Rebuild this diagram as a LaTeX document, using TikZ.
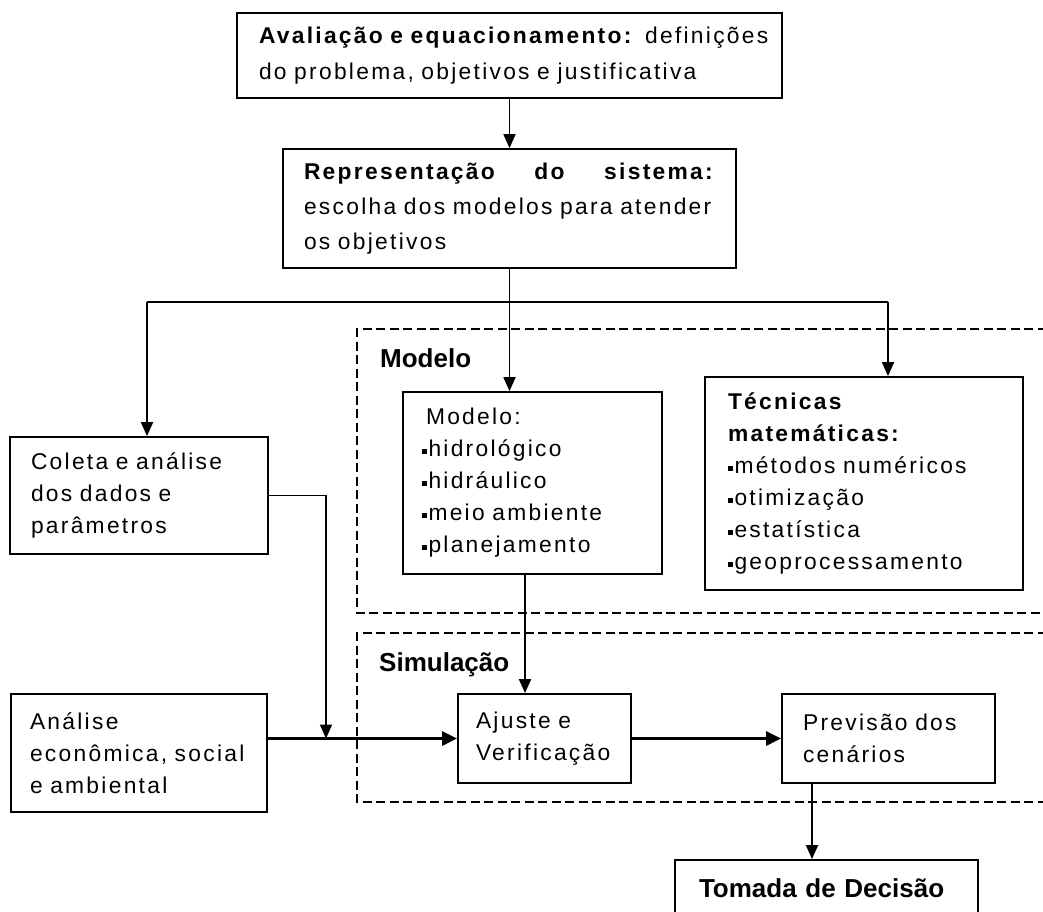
\documentclass[tikz,border=0pt]{standalone}
\usepackage{fontspec}
\setmainfont{Liberation Sans}[LetterSpace=10]
\newfontfamily\lblfont{Liberation Sans}
\usetikzlibrary{arrows.meta}
\newcommand{\sqb}{\rule[3pt]{4.5pt}{4.5pt}\hspace{2pt}}
\begin{document}
\begin{tikzpicture}[x=1pt,y=-1pt,
  box/.style={draw, line width=1.8pt, rectangle, align=left, inner ysep=0pt,
    font=\fontsize{22.8}{32}\selectfont},
  lbl/.style={inner sep=0pt, font=\lblfont\bfseries\fontsize{26}{30}\selectfont},
  ln/.style={line width=1.8pt},
  arr/.style={line width=1.8pt, -{Triangle[length=14pt,width=12pt]}},
  tarr/.style={line width=3pt, -{Triangle[length=15pt,width=14pt]}},
  region/.style={line width=1.5pt, dash pattern=on 9pt off 4.5pt}]
\useasboundingbox (0,0) rectangle (1043,911);
\clip (0,0) rectangle (1043,911);
\fill[white] (0,0) rectangle (1043,911);

% dashed regions
\draw[region] (1060,329) -- (357,329) -- (357,613) -- (1060,613);
\draw[region] (1060,633) -- (357,633) -- (357,802) -- (1060,802);
\node[lbl, anchor=base west] (lmod) at (380,367) {Modelo};
\node[lbl, anchor=base west] (lsim) at (379,671) {Simulação};

% boxes
\node[box, font=\fontsize{22.8}{36}\selectfont, text width=501pt, inner xsep=22pt,
  minimum width=545pt, minimum height=85pt] (top) at (509.5,55.5)
  {\mbox{\textbf{Avaliação e equacionamento:} definições}\\
   \mbox{do problema, objetivos e justificativa}};
\node[box, font=\fontsize{22.8}{35}\selectfont, text width=411pt, inner xsep=21pt,
  minimum width=453pt, minimum height=119pt] (rep) at (509.5,208.5)
  {\hbox to 411pt{\textbf{Representação}\hfill\textbf{do}\hfill\textbf{sistema:}}\\
   \mbox{escolha dos modelos para atender}\\
   \mbox{os objetivos}};
\node[box, text width=216pt, inner xsep=21pt, minimum width=258pt,
  minimum height=117pt] (coleta) at (139,495.5)
  {\mbox{Coleta e análise}\\ \mbox{dos dados e}\\ \mbox{parâmetros}};
\node[box, text width=213pt, inner xsep=23pt, minimum width=259pt,
  minimum height=182pt] (modelo) at (532.5,483)
  {\mbox{Modelo:}\\
   \mbox{\hspace*{-4pt}\sqb hidrológico}\\
   \mbox{\hspace*{-4pt}\sqb hidráulico}\\
   \mbox{\hspace*{-4pt}\sqb meio ambiente}\\
   \mbox{\hspace*{-4pt}\sqb planejamento}};
\node[box, text width=272pt, inner xsep=23pt, minimum width=318pt,
  minimum height=213pt] (tec) at (864,483.5)
  {\mbox{\textbf{Técnicas}}\\
   \mbox{\textbf{matemáticas:}}\\
   \mbox{\sqb métodos numéricos}\\
   \mbox{\sqb otimização}\\
   \mbox{\sqb estatística}\\
   \mbox{\sqb geoprocessamento}};
\node[box, text width=218pt, inner xsep=19pt, minimum width=256pt,
  minimum height=118pt] (analise) at (139,753)
  {\mbox{Análise}\\ \mbox{econômica, social}\\ \mbox{e ambiental}};
\node[box, text width=137pt, inner xsep=18pt, minimum width=173pt,
  minimum height=89pt] (ajuste) at (544.5,738.5)
  {\mbox{Ajuste e}\\ \mbox{Verificação}};
\node[box, text width=171pt, inner xsep=21pt, minimum width=213pt,
  minimum height=89pt] (prev) at (888.5,738.5)
  {\mbox{Previsão dos}\\ \mbox{cenários}};
\node[box, text width=255pt, inner xsep=24pt, minimum width=303pt,
  minimum height=56pt, font=\lblfont\bfseries\fontsize{26}{30}\selectfont]
  (tomada) at (826.5,888) {\mbox{Tomada de Decisão}};

% connectors
\coordinate (jl) at (147,302);
\coordinate (jr) at (888,302);
\coordinate (cj) at (326,738.5);
\draw[arr] (top) -- (rep);
\draw[arr] (rep.south) -- (rep.south |- modelo.north);
\draw[ln] (jl) -- (jr);
\draw[arr] (jl) -- (jl |- coleta.north);
\draw[arr] (jr) -- (jr |- tec.north);
\draw[arr] ([xshift=-7.5pt]modelo.south) -- ([xshift=-7.5pt]modelo.south |- ajuste.north);
\draw[arr] (coleta.east) -| (cj);
\draw[tarr] (analise.east |- ajuste.west) -- (ajuste.west);
\draw[tarr] (ajuste.east) -- (prev.west);
\draw[arr] ([xshift=-76.5pt]prev.south) -- ([xshift=-76.5pt]prev.south |- tomada.north);
\end{tikzpicture}
\end{document}
